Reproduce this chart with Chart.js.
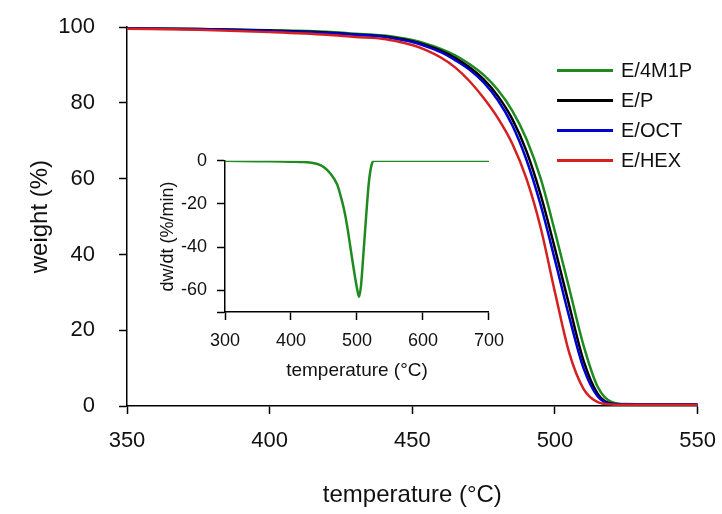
<!DOCTYPE html>
<html>
<head>
<meta charset="utf-8">
<script src="https://cdn.jsdelivr.net/npm/chart.js@4"></script>
<style>
  body { margin: 0; background: #fff; font-family: Arial, "Liberation Sans", sans-serif; overflow: hidden; }
  #wrap { position: relative; width: 722px; height: 514px; overflow: hidden; }
  #main { position: absolute; left: 0; top: -10px; }
  #inset { position: absolute; left: 150px; top: 140px; }
  #legend { position: absolute; left: 557px; top: 55px; font-size: 20px; color: #111; }
  #legend div { height: 30px; display: flex; align-items: center; }
  #legend span.l { display: inline-block; width: 56px; height: 3px; margin-right: 8px; }
</style>
</head>
<body>
<div id="wrap">
  <canvas id="main" width="730" height="524"></canvas>
  <canvas id="inset" width="364" height="255"></canvas>
  <div id="legend"></div>
</div>
<script>
const temps = [350, 375, 400, 420, 430, 440, 445, 450, 455, 460, 465, 470, 475, 480, 485, 490, 495, 500, 505, 510, 515, 520, 525, 550];
const seriesNames = ['E/4M1P', 'E/P', 'E/OCT', 'E/HEX'];
const seriesColors = ['#1f8a1f', '#000000', '#0000d0', '#d42020'];
const w4M1P = [99.7, 99.5, 99.2, 98.8, 98.3, 97.8, 97.3, 96.6, 95.6, 94.3, 92.6, 90.3, 87.4, 83.4, 78.0, 70.5, 60.0, 46.0, 31.0, 16.0, 5.0, 1.0, 0.5, 0.4];
const wP    = [99.7, 99.5, 99.1, 98.6, 98.1, 97.6, 97.0, 96.3, 95.2, 93.8, 91.9, 89.4, 86.2, 81.8, 75.8, 67.3, 55.7, 41.5, 26.5, 12.0, 3.2, 0.6, 0.4, 0.4];
const wOCT  = [99.7, 99.5, 99.0, 98.5, 98.0, 97.5, 96.8, 96.1, 94.9, 93.4, 91.3, 88.8, 85.4, 80.7, 74.2, 65.0, 53.0, 38.5, 23.5, 10.0, 2.5, 0.5, 0.4, 0.4];
const wHEX  = [99.6, 99.3, 98.7, 98.0, 97.4, 96.9, 96.2, 95.3, 93.9, 92.0, 89.4, 85.8, 81.3, 76.0, 69.3, 60.0, 47.0, 30.0, 14.0, 4.5, 1.0, 0.4, 0.3, 0.3];
const weights = [w4M1P, wP, wOCT, wHEX];

const dTemps = [300, 350, 400, 420, 440, 450, 460, 470, 475, 480, 485, 490, 495, 500, 503, 506, 510, 514, 518, 522, 526, 530, 600, 700];
const dRate  = [0, -0.2, -0.4, -0.6, -1.5, -3, -6, -11, -16, -22, -30, -40, -50, -59, -63, -58, -42, -25, -10, -2, 0, 0, 0, 0];

const font = "Arial, 'Liberation Sans', sans-serif";

function axisBase(min, max, step, size, pad) {
  return {
    type: 'linear', min: min, max: max,
    border: { color: '#000', width: 1.5 },
    grid: { drawOnChartArea: false, drawTicks: true, tickLength: 8, color: '#000', tickWidth: 1.5 },
    ticks: { stepSize: step, color: '#111', font: { family: font, size: size }, padding: pad }
  };
}

const mx = axisBase(350, 550, 50, 22, 14);
mx.title = { display: true, text: 'temperature (°C)', color: '#111', font: { family: font, size: 24 }, padding: { top: 30 } };
mx.afterFit = s => { s.height = 108; };
const my = axisBase(0, 100, 20, 22, 24);
my.title = { display: true, text: 'weight (%)', color: '#111', font: { family: font, size: 24 }, padding: { bottom: 0 } };
my.afterFit = s => { s.width = 105; };

new Chart(document.getElementById('main'), {
  type: 'line',
  data: {
    datasets: seriesNames.map((n, i) => ({
      label: n,
      data: temps.map((t, j) => ({ x: t, y: weights[i][j] })),
      borderColor: seriesColors[i], borderWidth: 2.5, pointRadius: 0,
      cubicInterpolationMode: 'monotone'
    })).reverse()
  },
  options: {
    responsive: false, animation: false,
    layout: { padding: { top: 18, right: 16, left: 22 } },
    scales: { x: mx, y: my },
    plugins: { legend: { display: false }, tooltip: { enabled: false } }
  }
});

const ix = axisBase(300, 700, 100, 18, 10);
ix.title = { display: true, text: 'temperature (°C)', color: '#111', font: { family: font, size: 19 }, padding: { top: 0 } };
ix.afterFit = s => { s.height = 74; };
const iy = axisBase(-70, 0, 20, 18, 10);
iy.afterBuildTicks = s => { s.ticks = [0, -20, -40, -60, -70].map(v => ({ value: v })); };
iy.ticks.callback = v => (v === -70 ? '' : v);
iy.title = { display: true, text: 'dw/dt (%/min)', color: '#111', font: { family: font, size: 18 }, padding: { bottom: 0 } };
iy.afterFit = s => { s.width = 72; };

new Chart(document.getElementById('inset'), {
  type: 'line',
  data: {
    datasets: [{
      data: dTemps.map((t, j) => ({ x: t, y: dRate[j] })),
      borderColor: seriesColors[0], borderWidth: 2.5, pointRadius: 0,
      cubicInterpolationMode: 'monotone'
    }]
  },
  options: {
    responsive: false, animation: false,
    layout: { padding: { top: 11, right: 12, left: 3, bottom: 9 } },
    scales: { x: ix, y: iy },
    plugins: { legend: { display: false }, tooltip: { enabled: false } }
  }
});

const leg = document.getElementById('legend');
seriesNames.forEach((n, i) => {
  const d = document.createElement('div');
  d.innerHTML = '<span class="l" style="background:' + seriesColors[i] + '"></span>' + n;
  leg.appendChild(d);
});
</script>
</body>
</html>
